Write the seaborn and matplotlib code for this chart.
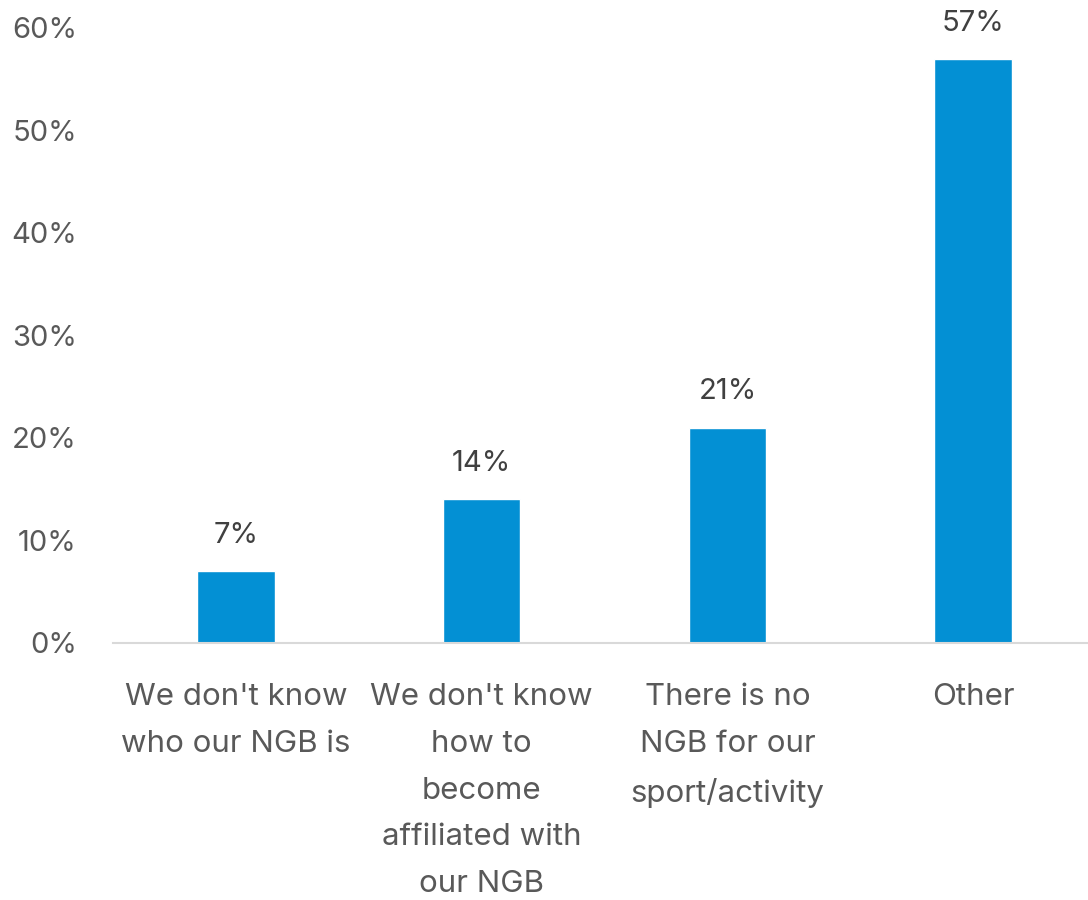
import matplotlib
matplotlib.use("Agg")
import matplotlib.pyplot as plt
import seaborn as sns
import pandas as pd
from matplotlib.ticker import FuncFormatter

categories = [
    "We don't know\nwho our NGB is",
    "We don't know\nhow to\nbecome\naffiliated with\nour NGB",
    "There is no\nNGB for our\nsport/activity",
    "Other",
]
values = [7, 14, 21, 57]
value_labels = ["7%", "14%", "21%", "57%"]
y_ticks = [0, 10, 20, 30, 40, 50, 60]

sns.set_theme(style="white")
plt.rcParams["font.family"] = ["Inter", "DejaVu Sans"]

df = pd.DataFrame({"reason": categories, "share": values})

fig = plt.figure(figsize=(10.88, 9.0), dpi=100)
ax = fig.add_axes([0.1039, 0.2856, 0.9035, 0.6833])

sns.barplot(data=df, x="reason", y="share", color="#0390D4", width=0.315,
            saturation=1, ax=ax)

ax.set_xlim(-0.5, 3.5)
ax.set_ylim(0, 60)
ax.set_yticks(y_ticks)
ax.yaxis.set_major_formatter(FuncFormatter(lambda v, _: f"{v:.0f}%"))
ax.set_xlabel("")
ax.set_ylabel("")

for s in ["top", "right", "left"]:
    ax.spines[s].set_visible(False)
ax.spines["bottom"].set_color("#D9D9D9")
ax.spines["bottom"].set_linewidth(1.5)

ax.tick_params(axis="y", length=0, pad=26, labelsize=21, labelcolor="#595959")
ax.tick_params(axis="x", length=0, pad=29, labelsize=22.5, labelcolor="#595959")
for lbl in ax.get_xticklabels():
    lbl.set_linespacing(1.85)
    lbl.set_verticalalignment("top")

for patch, text in zip(ax.patches, value_labels):
    ax.annotate(text, (patch.get_x() + patch.get_width() / 2, patch.get_height()),
                xytext=(0, 16), textcoords="offset points", ha="center", va="bottom",
                fontsize=21, color="#404040")

fig.savefig("out.png", dpi=100)
